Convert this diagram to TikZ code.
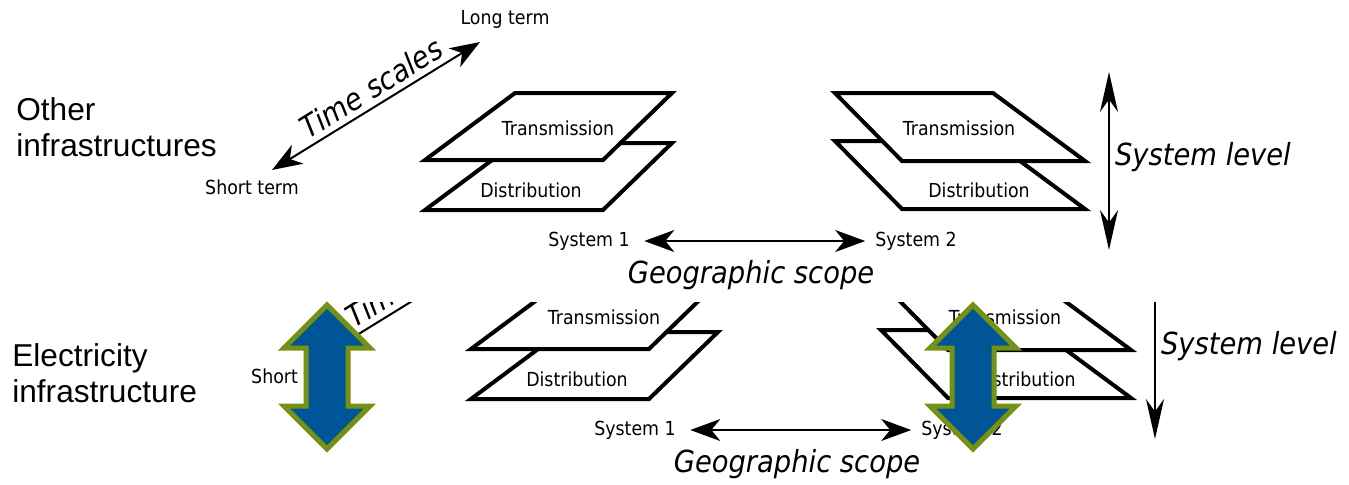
\documentclass[tikz,border=0pt]{standalone}
\usepackage{fontspec}
\setmainfont{Liberation Sans}
\newfontfamily\dvfont[FakeStretch=0.9]{DejaVu Sans}
\usetikzlibrary{arrows.meta}
\definecolor{arrowblue}{RGB}{0,85,150}
\definecolor{arrowgreen}{RGB}{118,146,22}
\tikzset{htip/.tip={Stealth[length=0.6cm,width=0.44cm,inset=0.18cm]},
  vtip/.tip={Stealth[length=0.8cm,width=0.36cm,inset=0.25cm]},
  layer/.style={line width=0.08cm,fill=white,line join=miter},
  lbl/.style={font=\dvfont\fontsize{11pt}{13pt}\selectfont,inner sep=1pt},
  axislbl/.style={font=\dvfont\itshape\fontsize{17.3pt}{20pt}\selectfont,inner sep=1pt},
  side/.style={font=\fontsize{18pt}{20.5pt}\selectfont,align=left,inner sep=0pt},
  conn/.style={line width=0.04cm,htip-htip},
  bigarrow/.style={line width=0.1cm,draw=arrowgreen,fill=arrowblue,line join=miter}}
% one copy of the layer diagram, px units
\tikzset{infra/.pic={
  % --- layers
  \draw[layer] (515,143) -- (672,143) -- (603,210) -- (425,210) -- cycle;
  \draw[layer] (515,93) -- (672,93) -- (603,160) -- (425,160) -- cycle;
  \draw[layer] (835,141) -- (993,141) -- (1085,209) -- (902,209) -- cycle;
  \draw[layer] (835,93) -- (993,93) -- (1085,161) -- (902,161) -- cycle;
  \node[lbl] (-trl) at (558,128) {Transmission}; \node[lbl] (-dil) at (531,190) {Distribution};
  \node[lbl] (-trr) at (959,128) {Transmission}; \node[lbl] (-dir) at (979,190) {Distribution};
  % --- time scales
  \node[lbl] (-short) at (252,187) {Short term}; \node[lbl] (-long) at (505,19) {Long term};
  \coordinate (-tsa) at (272,170); \coordinate (-tsb) at (480,42);
  \draw[conn] (-tsa) -- node[axislbl,sloped,above,pos=0.52,inner sep=3pt] (-ts) {Time scales} (-tsb);
  % --- geographic scope
  \node[lbl] (-sys1) at (589,241) {System 1}; \node[lbl] (-sys2) at (916,241) {System 2};
  \draw[conn] ([xshift=0.25cm]-sys1.east) -- ([xshift=-0.16cm]-sys2.west);
  \node[axislbl] (-geo) at (751,275) {Geographic scope};
  % --- system level
  \coordinate (-slt) at (1109,72); \coordinate (-slb) at (1109,250);
  \draw[line width=0.04cm,vtip-vtip] (-slt) -- (-slb);
  \node[axislbl,anchor=west] (-lvl) at (1113,157) {System level};
}}

\begin{document}
\begin{tikzpicture}[x=0.02cm,y=-0.02cm,line join=round]
\useasboundingbox[fill=white] (0,0) rectangle (1349,484);
\node[side,anchor=north west] (other) at (16,97) {Other\\infrastructures};
\node[side,anchor=north west] (elec) at (12,343) {Electricity\\infrastructure};
\pic (top) at (0,0) {infra};
\begin{scope}
\clip (0,302) rectangle (1349,484);
\pic (bot) at (46,189) {infra};
\end{scope}
% --- blue double arrows
\foreach \cx in {327,973}
  \draw[bigarrow] (\cx,305) -- (\cx+43,348) -- (\cx+21,348) -- (\cx+21,406) -- (\cx+43,406) -- (\cx,449)
    -- (\cx-43,406) -- (\cx-21,406) -- (\cx-21,348) -- (\cx-43,348) -- cycle;
\end{tikzpicture}
\end{document}
